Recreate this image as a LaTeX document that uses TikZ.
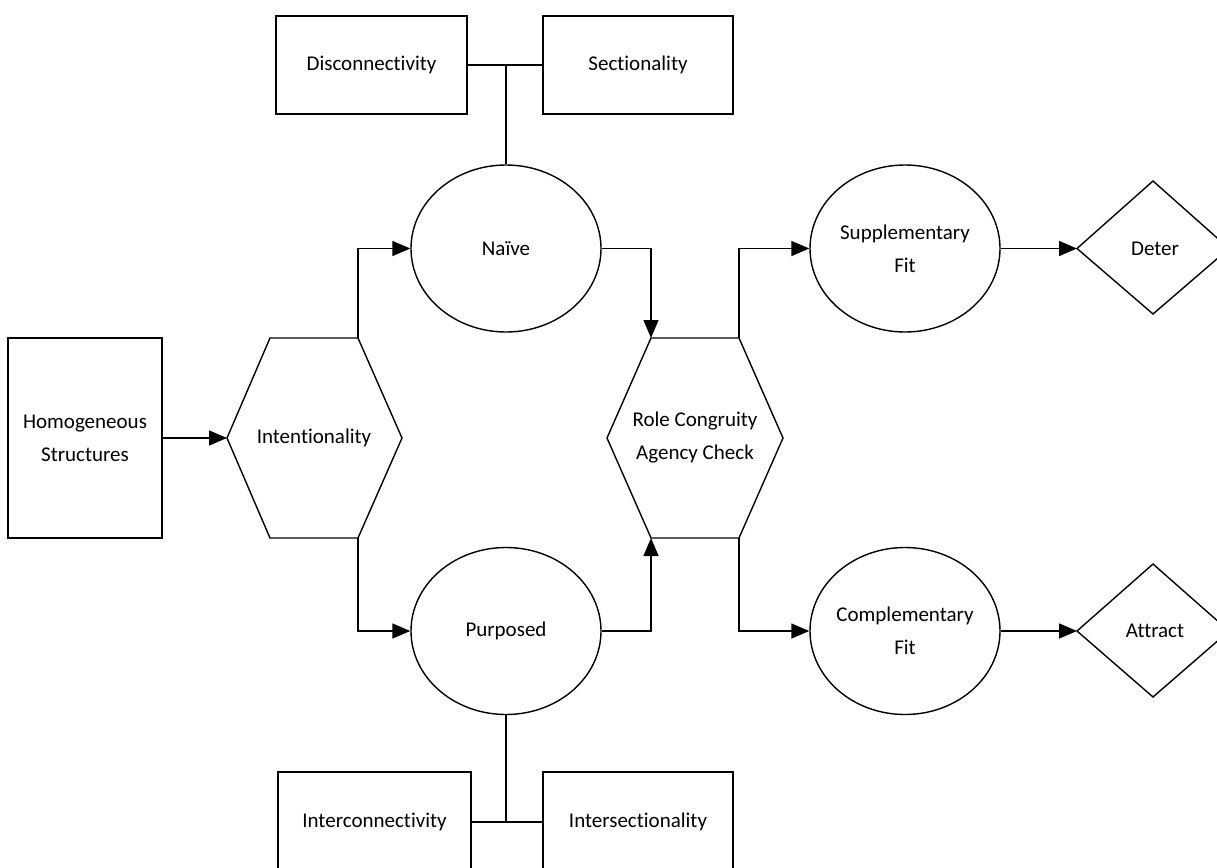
\documentclass[tikz,border=0pt]{standalone}
\usepackage{fontspec}
\setmainfont{Carlito}[Ligatures={NoCommon,NoContextual,NoRequired}]
\usetikzlibrary{arrows.meta,shapes.geometric}
\begin{document}
\begin{tikzpicture}[x=1pt,y=-1pt,line width=1.4pt,
  every node/.style={font=\fontsize{21}{33}\selectfont},
  box/.style={draw,rectangle,inner sep=0pt},
  ell/.style={draw,ellipse,inner sep=-30pt,minimum width=190pt,minimum height=167pt,align=center},
  shp/.style={draw,line join=miter},
  lbl/.style={align=center,inner sep=0pt},
  arr/.style={-{Triangle[length=18pt,width=15pt]}}]
\useasboundingbox (0,0) rectangle (1217,867);
\fill[white] (0,0) rectangle (1217,867);
\clip (0,0) rectangle (1217,867);

% top boxes
\node[box,minimum width=191pt,minimum height=98pt] (disc) at (371.5,65) {Disconnectivity};
\node[box,minimum width=190pt,minimum height=98pt] (sect) at (638,65) {Sectionality};
% bottom boxes
\node[box,minimum width=193pt,minimum height=100pt] (inter) at (374.5,822) {Interconnectivity};
\node[box,minimum width=190pt,minimum height=100pt] (isect) at (638,822) {Intersectionality};
% left box
\node[box,minimum width=154pt,minimum height=200pt,align=center] (homog) at (85,438) {Homogeneous\\Structures};

% ellipses
\node[ell] (naive) at (506,248.5) {Naïve};
\node[ell] (purp) at (506,631) {Purposed};
\node[ell] (supp) at (905,248.5) {Supplementary\\Fit};
\node[ell] (comp) at (905,631) {Complementary\\Fit};

% Intentionality hexagon
\coordinate (int-l) at (227,438);
\coordinate (int-tl) at (270,338);
\coordinate (int-tr) at (358,338);
\coordinate (int-r) at (402,438);
\coordinate (int-br) at (358,538);
\coordinate (int-bl) at (270,538);
\draw[shp] (int-l) -- (int-tl) -- (int-tr) -- (int-r) -- (int-br) -- (int-bl) -- cycle;
\node[lbl] (intent) at (314,438) {Intentionality};

% Role Congruity hexagon
\coordinate (rc-l) at (607,438);
\coordinate (rc-tl) at (651,338);
\coordinate (rc-tr) at (739,338);
\coordinate (rc-r) at (783,438);
\coordinate (rc-br) at (739,538);
\coordinate (rc-bl) at (651,538);
\draw[shp] (rc-l) -- (rc-tl) -- (rc-tr) -- (rc-r) -- (rc-br) -- (rc-bl) -- cycle;
\node[lbl] (role) at (695,438) {Role Congruity\\Agency Check};

% diamonds
\coordinate (det-l) at (1077,248.5);
\coordinate (det-t) at (1153,181);
\coordinate (det-r) at (1229,248.5);
\coordinate (det-b) at (1153,314);
\draw[shp] (det-l) -- (det-t) -- (det-r) -- (det-b) -- cycle;
\node[lbl] (deter) at (1155,248.5) {Deter};
\coordinate (att-l) at (1077,631);
\coordinate (att-t) at (1153,564);
\coordinate (att-r) at (1229,631);
\coordinate (att-b) at (1153,697);
\draw[shp] (att-l) -- (att-t) -- (att-r) -- (att-b) -- cycle;
\node[lbl] (attract) at (1155,631) {Attract};

% connectors top/bottom
\draw (disc.east) -- (sect.west);
\draw (naive.north) -- (naive.north |- disc.east);
\draw (inter.east) -- (isect.west);
\draw (purp.south) -- (purp.south |- inter.east);

% arrows
\draw[arr] (homog.east) -- (int-l);
\draw[arr] (int-tr) -- (int-tr |- naive.west) -- (naive.west);
\draw[arr] (int-br) -- (int-br |- purp.west) -- (purp.west);
\draw[arr] (naive.east) -- (naive.east -| rc-tl) -- (rc-tl);
\draw[arr] (purp.east) -- (purp.east -| rc-bl) -- (rc-bl);
\draw[arr] (rc-tr) -- (rc-tr |- supp.west) -- (supp.west);
\draw[arr] (rc-br) -- (rc-br |- comp.west) -- (comp.west);
\draw[arr] (supp.east) -- (det-l);
\draw[arr] (comp.east) -- (att-l);
\end{tikzpicture}
\end{document}
